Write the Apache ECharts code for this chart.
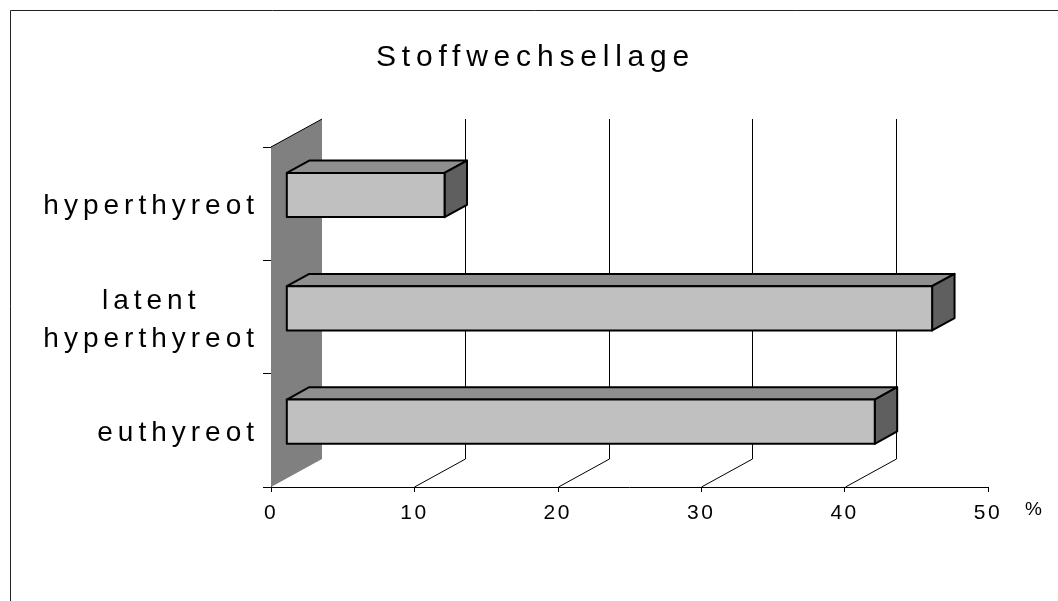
<!DOCTYPE html>
<html>
<head>
<meta charset="utf-8">
<script src="https://cdn.jsdelivr.net/npm/echarts@6/dist/echarts.min.js"></script>
<style>
  html, body { margin: 0; padding: 0; background: #fff; }
  #chart { width: 1058px; height: 601px; }
</style>
</head>
<body>
<div id="chart"></div>
<script>
// Chart data
const categories = ['hyperthyreot', 'latent\nhyperthyreot', 'euthyreot'];
const shares = [11, 45, 41];               // percent
const tickValues = [0, 10, 20, 30, 40, 50];
const titleText = 'Stoffwechsellage';
const unitText = '%';

// Letter spacing per font size (px) - the canvas API supports it, zrender does not expose it
const LETTER_SPACING = { 30: 5.8, 28: 5, 21: 2.5, 19: 0 };
(function () {
  const proto = CanvasRenderingContext2D.prototype;
  const spacingFor = function (font) {
    const m = /(\d+(?:\.\d+)?)px/.exec(font || '');
    const s = m ? Math.round(parseFloat(m[1])) : 0;
    return (LETTER_SPACING[s] || 0) + 'px';
  };
  const origMeasure = proto.measureText;
  const origFill = proto.fillText;
  const origStroke = proto.strokeText;
  proto.measureText = function (t) { this.letterSpacing = spacingFor(this.font); return origMeasure.call(this, t); };
  proto.fillText = function () { this.letterSpacing = spacingFor(this.font); return origFill.apply(this, arguments); };
  proto.strokeText = function () { this.letterSpacing = spacingFor(this.font); return origStroke.apply(this, arguments); };
})();

const FONT = "'Liberation Sans', Arial, sans-serif";

// 3D depth of the plot floor (px) and the depth slice each bar occupies
const DEPTH_X = 51, DEPTH_Y = -28;
const BAR_FRONT = 0.31, BAR_BACK = 0.75;
const BAR_THICKNESS = 0.39;   // share of the category band

const chart = echarts.init(document.getElementById('chart'), null, { renderer: 'canvas' });

function wallItem(params, api) {
  const cs = params.coordSys;
  const x = api.coord([0, 0])[0];
  const top = cs.y, bottom = cs.y + cs.height;
  return {
    type: 'group',
    children: [
      {
        type: 'polygon',
        shape: { points: [[x, top], [x + DEPTH_X, top + DEPTH_Y], [x + DEPTH_X, bottom + DEPTH_Y], [x, bottom]] },
        style: { fill: '#808080', stroke: null }
      },
      {
        type: 'line',
        shape: { x1: x, y1: top, x2: x + DEPTH_X, y2: top + DEPTH_Y },
        style: { stroke: '#000', lineWidth: 1 }
      }
    ]
  };
}

function gridItem(params, api) {
  const cs = params.coordSys;
  const x = Math.round(api.coord([api.value(0), 0])[0]) + 0.5;
  const top = cs.y, bottom = cs.y + cs.height;
  return {
    type: 'group',
    children: [
      {
        type: 'line',
        shape: { x1: x + DEPTH_X, y1: top + DEPTH_Y, x2: x + DEPTH_X, y2: bottom + DEPTH_Y },
        style: { stroke: '#000', lineWidth: 1 }
      },
      {
        type: 'line',
        shape: { x1: x, y1: bottom, x2: x + DEPTH_X, y2: bottom + DEPTH_Y },
        style: { stroke: '#000', lineWidth: 1 }
      }
    ]
  };
}

function barItem(params, api) {
  const cat = api.value(1);
  const p0 = api.coord([0, cat]);
  const p1 = api.coord([api.value(0), cat]);
  const band = api.size([0, 1])[1];
  const h = band * BAR_THICKNESS;
  const fx = DEPTH_X * BAR_FRONT, fy = DEPTH_Y * BAR_FRONT;
  const dx = DEPTH_X * (BAR_BACK - BAR_FRONT), dy = DEPTH_Y * (BAR_BACK - BAR_FRONT);
  const x0 = p0[0] + fx, x1 = p1[0] + fx;
  const yT = p0[1] + fy - h / 2, yB = yT + h;
  const edge = { stroke: '#000', lineWidth: 2, lineJoin: 'round' };
  return {
    type: 'group',
    children: [
      {
        type: 'polygon',
        shape: { points: [[x0, yT], [x1, yT], [x1 + dx, yT + dy], [x0 + dx, yT + dy]] },
        style: Object.assign({ fill: '#8f8f8f' }, edge)
      },
      {
        type: 'polygon',
        shape: { points: [[x1, yT], [x1 + dx, yT + dy], [x1 + dx, yB + dy], [x1, yB]] },
        style: Object.assign({ fill: '#5f5f5f' }, edge)
      },
      {
        type: 'rect',
        shape: { x: x0, y: yT, width: x1 - x0, height: h },
        style: Object.assign({ fill: '#c0c0c0' }, edge)
      }
    ]
  };
}

chart.setOption({
  animation: false,
  backgroundColor: '#fff',
  title: {
    text: titleText,
    left: 376,
    top: 40,
    padding: 0,
    textStyle: { fontFamily: FONT, fontSize: 30, fontWeight: 'normal', color: '#000' }
  },
  graphic: [
    {
      type: 'rect',
      shape: { x: 10.5, y: 10.5, width: 1200, height: 800 },
      style: { fill: null, stroke: '#222', lineWidth: 1 },
      z: -10
    }
  ],
  grid: { left: 271, right: 70, top: 147, bottom: 114, containLabel: false },
  xAxis: {
    type: 'value',
    min: tickValues[0],
    max: tickValues[tickValues.length - 1],
    interval: 10,
    name: unitText,
    nameLocation: 'end',
    nameGap: 37,
    nameTextStyle: { fontFamily: FONT, fontSize: 19, color: '#000', verticalAlign: 'top', padding: [13, 0, 0, 0] },
    axisLine: { show: true, lineStyle: { color: '#000', width: 1 } },
    axisTick: { show: true, length: 5, lineStyle: { color: '#000' } },
    axisLabel: { fontFamily: FONT, fontSize: 21, color: '#000', margin: 14 },
    splitLine: { show: false }
  },
  yAxis: {
    type: 'category',
    data: categories,
    inverse: true,
    axisLine: { show: true, lineStyle: { color: '#000', width: 1 } },
    axisTick: { show: true, length: 8, lineStyle: { color: '#000' } },
    axisLabel: {
      fontFamily: FONT, fontSize: 28, color: '#000', margin: 12, align: 'right', lineHeight: 38,
      padding: [6, 0, 0, 0],
      formatter: function (v) { return v.split('\n').map(function (s) { return '{c|' + s + '}'; }).join('\n'); },
      rich: { c: { align: 'center', fontFamily: FONT, fontSize: 28, lineHeight: 38, color: '#000' } }
    },
    splitLine: { show: false }
  },
  series: [
    {
      type: 'custom',
      name: 'wall',
      renderItem: wallItem,
      data: [[0, 0]],
      encode: { x: 0, y: 1 },
      z: 1,
      silent: true
    },
    {
      type: 'custom',
      name: 'grid',
      renderItem: gridItem,
      data: tickValues.slice(1, -1).map(function (v) { return [v, 0]; }),
      encode: { x: 0, y: 1 },
      z: 2,
      silent: true
    },
    {
      type: 'custom',
      name: 'Stoffwechsellage',
      renderItem: barItem,
      data: shares.map(function (v, i) { return [v, i]; }),
      encode: { x: 0, y: 1 },
      z: 3
    }
  ]
});
</script>
</body>
</html>
